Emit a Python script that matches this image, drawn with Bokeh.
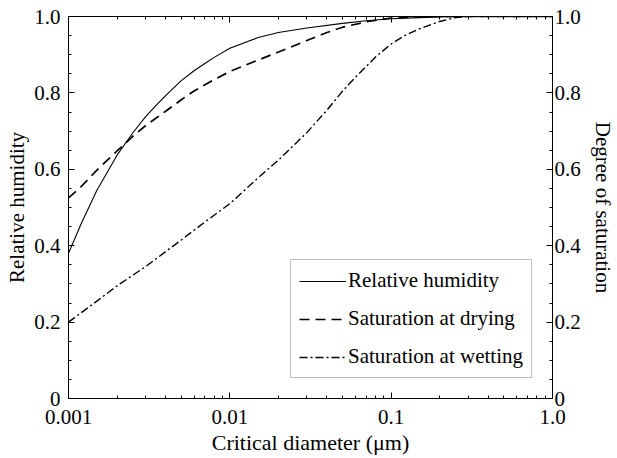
from bokeh.plotting import figure
from bokeh.models import (Range1d, LinearAxis, LogAxis, FixedTicker,
                          CustomJSTickFormatter, Legend, LegendItem)
from bokeh.embed import file_html
from bokeh.resources import INLINE

# ---- data ----
diameter_rh = [0.001, 0.0012, 0.0015, 0.002, 0.0025, 0.003, 0.0035, 0.004, 0.005, 0.006,
               0.007, 0.008, 0.01, 0.015, 0.02, 0.03, 0.05, 0.07, 0.1, 0.15, 0.2, 0.3, 1.0]
relative_humidity = [0.38, 0.458, 0.545, 0.637, 0.695, 0.737, 0.768, 0.793, 0.832, 0.858,
                     0.877, 0.893, 0.917, 0.945, 0.958, 0.970, 0.982, 0.989, 0.994, 0.997,
                     0.999, 1.0, 1.0]

diameter_dry = [0.001, 0.0012, 0.0015, 0.002, 0.0025, 0.003, 0.004, 0.005, 0.006, 0.008,
                0.01, 0.015, 0.02, 0.03, 0.04, 0.05, 0.07, 0.1, 0.15, 1.0]
saturation_drying = [0.525, 0.555, 0.598, 0.648, 0.686, 0.714, 0.752, 0.782, 0.805, 0.835,
                     0.856, 0.886, 0.907, 0.937, 0.958, 0.972, 0.986, 0.996, 1.0, 1.0]

diameter_wet = [0.001, 0.0015, 0.002, 0.003, 0.005, 0.007, 0.01, 0.015, 0.02, 0.03, 0.04,
                0.05, 0.06, 0.07, 0.08, 0.1, 0.12, 0.15, 0.2, 0.25, 0.3, 1.0]
saturation_wetting = [0.20, 0.255, 0.295, 0.345, 0.415, 0.462, 0.51, 0.578, 0.624, 0.696, 0.755,
                      0.805, 0.841, 0.869, 0.894, 0.928, 0.949, 0.968, 0.987, 0.997, 1.0, 1.0]

x_ticks = [0.001, 0.01, 0.1, 1.0]
y_ticks = [0, 0.2, 0.4, 0.6, 0.8, 1.0]
x_minor = [k * d for d in (0.001, 0.01, 0.1) for k in range(1, 10)] + [1.0]
y_minor = [i * 0.05 for i in range(21)]

FONT = "Liberation Serif"
FS = "21px"

p = figure(width=617, height=458, x_axis_type="log",
           x_range=Range1d(0.001, 1.0), y_range=Range1d(0, 1),
           output_backend="svg", toolbar_location=None,
           min_border_left=68, min_border_right=62, min_border_top=16, min_border_bottom=60,
           background_fill_color="white", border_fill_color="white")
p.xgrid.visible = False
p.ygrid.visible = False
p.outline_line_color = "black"

x_fmt = CustomJSTickFormatter(code="return tick >= 1 ? tick.toFixed(1) : String(tick);")
y_fmt = CustomJSTickFormatter(code="return tick == 0 ? '0' : tick.toFixed(1);")


def style(ax):
    ax.axis_line_color = "black"
    ax.axis_line_width = 1
    ax.major_tick_in = 6
    ax.major_tick_out = 0
    ax.minor_tick_in = 3
    ax.minor_tick_out = 0
    ax.major_tick_line_color = "black"
    ax.minor_tick_line_color = "black"
    ax.major_label_text_font = FONT
    ax.major_label_text_font_size = FS
    ax.major_label_text_color = "black"
    ax.axis_label_text_font = FONT
    ax.axis_label_text_font_size = FS
    ax.axis_label_text_font_style = "normal"
    ax.axis_label_text_color = "black"


bx = p.xaxis[0]
bx.ticker = FixedTicker(ticks=x_ticks, minor_ticks=x_minor)
bx.formatter = x_fmt
bx.axis_label = "Critical diameter (\u03bcm)"
style(bx)
bx.axis_label_text_font_size = "22px"
bx.major_label_standoff = 11
bx.axis_label_standoff = 3

ly = p.yaxis[0]
ly.ticker = FixedTicker(ticks=y_ticks, minor_ticks=y_minor)
ly.formatter = y_fmt
ly.axis_label = "Relative humidity"
style(ly)
ly.major_label_standoff = 8
ly.axis_label_standoff = 2

ry = LinearAxis(ticker=FixedTicker(ticks=y_ticks, minor_ticks=y_minor), formatter=y_fmt,
                axis_label="Degree of saturation")
style(ry)
ry.major_label_standoff = 2
ry.axis_label_standoff = 7
p.add_layout(ry, "right")

tx = LogAxis(ticker=FixedTicker(ticks=x_ticks, minor_ticks=x_minor), formatter=x_fmt)
style(tx)
tx.major_label_text_color = None
tx.major_label_text_font_size = "1px"
tx.major_label_standoff = 0
p.add_layout(tx, "above")

r1 = p.line(diameter_rh, relative_humidity, line_color="black", line_width=1.1)
r2 = p.line(diameter_dry, saturation_drying, line_color="black", line_width=1.7,
            line_dash="10 6")
r3 = p.line(diameter_wet, saturation_wetting, line_color="black", line_width=1.4,
            line_dash="8 3 2 3")

legend = Legend(items=[LegendItem(label="Relative humidity", renderers=[r1]),
                       LegendItem(label="Saturation at drying", renderers=[r2]),
                       LegendItem(label="Saturation at wetting", renderers=[r3])],
                location="bottom_right", margin=20, padding=8, spacing=13,
                glyph_width=47, glyph_height=24, label_height=24, label_standoff=2,
                label_text_font=FONT, label_text_font_size=FS, label_text_color="black",
                border_line_color="#808080", border_line_width=1,
                background_fill_color="white", background_fill_alpha=1.0)
p.add_layout(legend)

open("out.html", "w").write(file_html(p, INLINE))
